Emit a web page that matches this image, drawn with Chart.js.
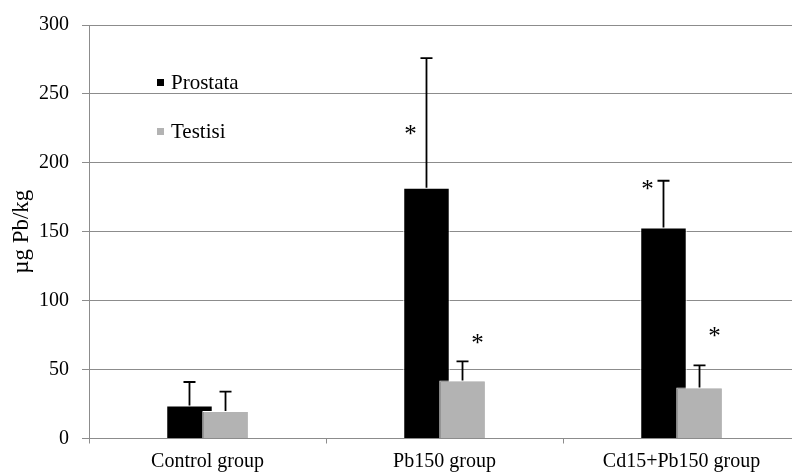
<!DOCTYPE html>
<html>
<head>
<meta charset="utf-8">
<script src="https://cdn.jsdelivr.net/npm/chart.js@4/dist/chart.umd.min.js"></script>
<style>
  html, body { margin: 0; padding: 0; background: #fff; overflow: hidden; }
  #wrap { position: relative; width: 812px; height: 473px; }
</style>
</head>
<body>
<div id="wrap"><canvas id="leadChart"></canvas></div>
<script>
const groups = ["Control group", "Pb150 group", "Cd15+Pb150 group"];
const prostataMean = [24, 182, 153];
const prostataSd = [17, 94, 34];
const testisMean = [20, 42, 37];
const testisSd = [14, 14, 16];
// level of the significance asterisk, null where there is none
const prostataStar = [null, 224, 184];
const testisStar = [null, 72, 77];
const yMin = 0, yMax = 300, yStep = 50;

const FONT = '"Liberation Serif", "Times New Roman", serif';
const GRID = "#8c8c8c";
Chart.defaults.font.family = FONT;
Chart.defaults.color = "#000";

// one-sided SD whiskers plus the * marks
const errorBars = {
  id: "errorBars",
  afterDatasetsDraw(chart) {
    const ctx = chart.ctx;
    const y = chart.scales.y;
    // testisi bars sit over the prostata bars, draw them again on top
    chart.getDatasetMeta(1).data.forEach((bar) => bar.draw(ctx));

    const sets = [
      [prostataMean, prostataSd, prostataStar, -16],
      [testisMean, testisSd, testisStar, 15],
    ];
    ctx.save();
    ctx.strokeStyle = "#000";
    ctx.fillStyle = "#000";
    ctx.lineWidth = 1.8;
    ctx.font = "25px " + FONT;
    ctx.textAlign = "center";
    ctx.textBaseline = "alphabetic";
    const m = ctx.measureText("*");
    const starShift = (m.actualBoundingBoxAscent - m.actualBoundingBoxDescent) / 2;
    sets.forEach(([means, sds, stars, dx], di) => {
      chart.getDatasetMeta(di).data.forEach((bar, i) => {
        const top = y.getPixelForValue(means[i] + sds[i]);
        ctx.beginPath();
        ctx.moveTo(bar.x, bar.y);
        ctx.lineTo(bar.x, top);
        ctx.moveTo(bar.x - 6, top);
        ctx.lineTo(bar.x + 6, top);
        ctx.stroke();
        if (stars[i] !== null) {
          ctx.fillText("*", bar.x + dx, y.getPixelForValue(stars[i]) + starShift);
        }
      });
    });
    ctx.restore();
  },
};

// legend sits inside the plot, top left
const insideLegend = {
  id: "insideLegend",
  afterDraw(chart) {
    const ctx = chart.ctx;
    const area = chart.chartArea;
    ctx.save();
    ctx.font = "21px " + FONT;
    ctx.textBaseline = "middle";
    ctx.textAlign = "left";
    chart.data.datasets.forEach((ds, i) => {
      const cy = area.top + 57.5 + i * 49;
      ctx.fillStyle = ds.backgroundColor;
      ctx.fillRect(area.left + 68, cy - 3.5, 7, 7);
      ctx.fillStyle = "#000";
      ctx.fillText(ds.label, area.left + 82, cy + 1);
    });
    ctx.restore();
  },
};

new Chart(document.getElementById("leadChart"), {
  type: "bar",
  data: {
    labels: groups,
    datasets: [
      {
        label: "Prostata",
        data: prostataMean,
        backgroundColor: "#000",
        borderColor: "#fff",
        borderWidth: 1,
        categoryPercentage: 0.304,
        barPercentage: 1.29,
      },
      {
        label: "Testisi",
        data: testisMean,
        backgroundColor: "#b3b3b3",
        borderColor: "#fff",
        borderWidth: 1,
        categoryPercentage: 0.304,
        barPercentage: 1.29,
      },
    ],
  },
  options: {
    responsive: true,
    maintainAspectRatio: false,
    animation: false,
    layout: { padding: { top: 21.5, right: 12, left: 0, bottom: 0 } },
    plugins: {
      legend: { display: false },
      tooltip: { enabled: false },
    },
    scales: {
      x: {
        grid: { drawOnChartArea: false, tickLength: 5, color: GRID },
        border: { color: GRID },
        ticks: { font: { size: 20 }, padding: 6, maxRotation: 0 },
        afterFit(scale) { scale.height = 34.5; },
      },
      y: {
        min: yMin,
        max: yMax,
        ticks: { stepSize: yStep, font: { size: 20 }, padding: 13 },
        grid: { color: GRID, tickLength: 7 },
        border: { color: GRID },
        title: {
          display: true,
          text: "µg Pb/kg",
          font: { size: 23 },
          padding: { top: 8, bottom: 0 },
        },
        afterFit(scale) { scale.width = 89; },
      },
    },
  },
  plugins: [errorBars, insideLegend],
});
</script>
</body>
</html>
